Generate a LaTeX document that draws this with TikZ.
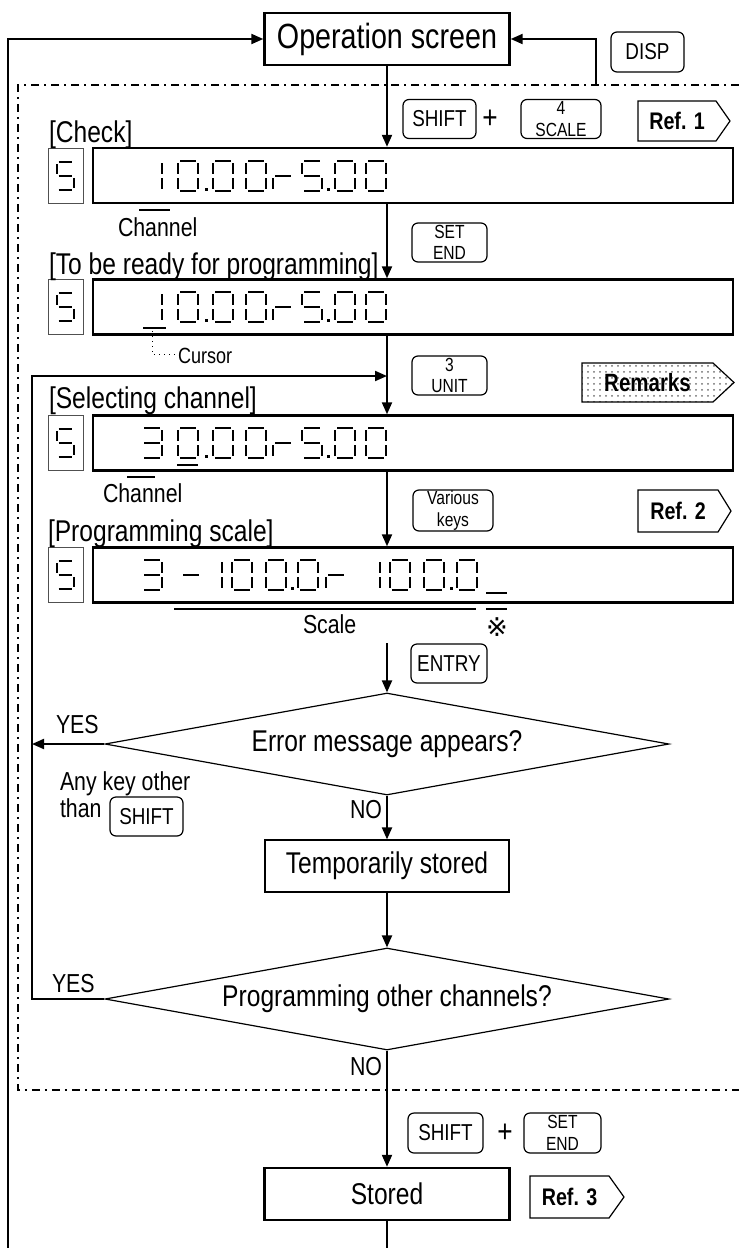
\documentclass[tikz,border=0pt]{standalone}
\usepackage{fontspec}
\setmainfont{Liberation Sans}[FakeStretch=0.82]
\newfontfamily\refmarkfont{DejaVu Sans}
\usetikzlibrary{arrows.meta,positioning,shapes.geometric,patterns,backgrounds}
\definecolor{FrameGray}{RGB}{80,80,80}
\definecolor{DotGray}{RGB}{110,110,110}
\newcommand{\fsz}[1]{\fontsize{#1}{#1}\selectfont}

% seven-segment figures: a=1 b=2 c=3 d=4 e=5 f=6 g=7
\def\dzero{1,2,3,4,5,6}
\def\done{2,3}
\def\dthree{1,2,3,4,7}
\def\dfive{1,6,7,3,4}
\def\dr{5,7}
\def\ddash{7}
\newcommand{\drawseg}[2]{%
  \ifcase#1\or
    \draw[#2] (2,0)--(18,0);\or
    \draw[#2] (20,2)--(20,13);\or
    \draw[#2] (20,17)--(20,28);\or
    \draw[#2] (2,30)--(18,30);\or
    \draw[#2] (0,17)--(0,28);\or
    \draw[#2] (0,2)--(0,13);\or
    \draw[#2] (2,15)--(18,15);\fi}
\newcommand{\lcd}[3]{%
  \begin{scope}[shift={(#1,#2)}]
    \foreach \s in #3 {\drawseg{\s}{segline}}
  \end{scope}}
\newcommand{\lcdpt}[2]{\fill (#1,#2) rectangle ++(3,-3);}
\newcommand{\chglyph}[1]{%
  \begin{scope}[shift={(57,#1)},xscale=0.85,yscale=0.93]
    \foreach \s in \dfive {\drawseg{\s}{sglyph}}
  \end{scope}}
\newcommand{\tagoutline}[3][]{%
  \draw[tagline,#1] (#2.north west) -- (#2.north east) -- ([xshift=#3]#2.east)
    -- (#2.south east) -- (#2.south west) -- cycle;}

\begin{document}
\begin{tikzpicture}[x=0.5pt,y=-0.5pt,line width=1pt,
    >={Triangle[length=6pt,width=5pt]},
    segline/.style={line width=1.4pt},
    sglyph/.style={line width=0.75pt},
    frameline/.style={line width=0.65pt,dash pattern=on 4pt off 2.5pt on 1pt off 2.5pt},
    mainbox/.style={draw,line width=1.2pt,minimum width=122.5pt,minimum height=26pt,inner sep=0pt},
    stepbox/.style={draw,line width=0.6pt,minimum width=122pt,minimum height=26pt,inner sep=0pt,font=\fsz{15}},
    lcdbox/.style={draw,line width=1.2pt,minimum width=320pt,minimum height=27.5pt,inner sep=0pt},
    chbox/.style={draw=FrameGray,line width=0.5pt,minimum width=17.5pt,minimum height=27.5pt,inner sep=0pt},
    decision/.style={diamond,draw,line width=0.6pt,aspect=5.5,minimum width=282pt,minimum height=51pt,inner sep=0pt,font=\fsz{15}},
    keycap/.style={draw,rounded corners=3pt,line width=0.6pt,inner sep=0pt,minimum height=19.5pt,align=center,font=\fsz{11.5}},
    keytwo/.style={keycap,font=\fontsize{9.5}{10.7}\selectfont},
    heading/.style={anchor=base west,inner sep=0pt,font=\fsz{15}},
    note/.style={inner sep=0pt,font=\fsz{13}},
    tagtext/.style={inner sep=0pt,minimum height=19pt,font=\bfseries\fsz{12}},
    tagline/.style={line width=0.6pt,line join=miter}]
  \useasboundingbox (0,0) rectangle (739,1248);

  % frame of the programming part
  \draw[frameline] (739,85) -- (18,85) -- (18,1090) -- (739,1090);

  % boxes
  \node[mainbox,font=\fsz{17.5}] (op) at (387,39) {Operation screen};
  \node[stepbox] (tmp) at (387,866) {Temporarily stored};
  \node[mainbox,font=\fsz{15}] (stored) at (387,1194) {Stored};
  \node[decision] (err) at (387,744) {Error message appears?};
  \node[decision] (oth) at (387,999) {Programming other channels?};

  % displays
  \node[lcdbox] (d1) at (413,175.5) {};
  \node[lcdbox] (d2) at (413,307) {};
  \node[lcdbox] (d3) at (413,443) {};
  \node[lcdbox] (d4) at (413,575) {};
  \node[chbox] (s1) at (65.5,175.5) {};
  \node[chbox] (s2) at (65.5,307) {};
  \node[chbox] (s3) at (65.5,443) {};
  \node[chbox] (s4) at (65.5,575) {};
  \chglyph{162} \chglyph{293} \chglyph{429} \chglyph{561}

  % display figures
  \lcd{142}{161}{\done} \lcd{142}{292}{\done} \lcd{142}{428}{\dthree}
  \foreach \ty in {161,292,428}{
    \lcd{178}{\ty}{\dzero} \lcdpt{205}{\ty+30}
    \lcd{213}{\ty}{\dzero}
    \lcd{246}{\ty}{\dzero}
    \lcd{273}{\ty}{\dr}
    \lcd{302}{\ty}{\dfive} \lcdpt{327}{\ty+30}
    \lcd{335}{\ty}{\dzero}
    \lcd{366}{\ty}{\dzero}
  }
  \lcd{142}{560}{\dthree}
  \lcd{181}{560}{\ddash}
  \lcd{202}{560}{\done}
  \lcd{232}{560}{\dzero}
  \lcd{266}{560}{\dzero} \lcdpt{291}{590}
  \lcd{298}{560}{\dzero}
  \lcd{326}{560}{\dr}
  \lcd{360}{560}{\done}
  \lcd{390}{560}{\dzero}
  \lcd{424}{560}{\dzero} \lcdpt{450}{590}
  \lcd{457}{560}{\dzero}
  \draw[segline] (143,328) -- (166,328);
  \draw[segline] (177,465) -- (198,465);
  \draw[segline] (486,593) -- (507,593);

  % headings and notes
  \node[heading] (lcheck) at (48,142) {[Check]};
  \node[heading] (lready) at (48,274) {[To be ready for programming]};
  \node[heading] (lselect) at (48,408) {[Selecting channel]};
  \node[heading] (lscale) at (47,541) {[Programming scale]};
  \draw[line width=1.2pt] (139,210) -- (170,210);
  \node[note,anchor=base west] (chan1) at (117,236) {Channel};
  \draw[line width=1.2pt] (127,477) -- (155,477);
  \node[note,anchor=base west] (chan2) at (102,502) {Channel};
  \draw[dotted,line width=0.5pt] (152,331) |- (175,354);
  \node[note,anchor=base west,font=\fsz{11}] (cur) at (177,363) {Cursor};
  \draw[line width=1.3pt] (174,609) -- (476,609);
  \draw[line width=1.3pt] (486,609) -- (507,609);
  \node[note,anchor=base west] (scl) at (302,633) {Scale};
  \node[inner sep=0pt,font=\refmarkfont\fsz{13}] (mark) at (497,627) {※};

  % keys
  \node[keycap,minimum width=36.5pt,minimum height=20pt] (disp) at (647.5,52) {DISP};
  \node[keycap,minimum width=36.5pt] (shifta) at (439.5,119) {SHIFT};
  \node[font=\fsz{16}] (plusa) at (490,119) {+};
  \node[keytwo,minimum width=40pt] (scalekey) at (561,119) {4\\SCALE};
  \node[keytwo,minimum width=37.5pt] (seta) at (449.5,242.5) {SET\\END};
  \node[keytwo,minimum width=37.5pt] (unitkey) at (449.5,375.5) {3\\UNIT};
  \node[keytwo,minimum width=40pt,minimum height=20.5pt] (variouskey) at (453,510.5) {Various\\keys};
  \node[keycap,minimum width=38pt] (entrykey) at (449,663.5) {ENTRY};
  \node[keycap,minimum width=36.5pt] (shiftb) at (146.5,816.5) {SHIFT};
  \node[keycap,minimum width=37.5pt,minimum height=20pt] (shiftc) at (445.5,1133) {SHIFT};
  \node[font=\fsz{16}] (plusb) at (505,1133) {+};
  \node[keytwo,minimum width=38.5pt,minimum height=20pt] (setb) at (562.5,1133) {SET\\END};

  % reference tags
  \node[tagtext,minimum width=38pt] (ref1) at (677,121) {Ref. 1};
  \tagoutline{ref1}{7pt}
  \node[tagtext,minimum width=39pt,minimum height=20pt] (ref2) at (678,511) {Ref. 2};
  \tagoutline{ref2}{6.5pt}
  \node[tagtext,minimum width=38.5pt,minimum height=20pt] (ref3) at (569.5,1197) {Ref. 3};
  \tagoutline{ref3}{7.5pt}
  \node[tagtext,minimum width=64.5pt,minimum height=18.5pt,font=\bfseries\fsz{12.5}] (rem) at (647.5,382.5) {Remarks};
  \begin{scope}[on background layer]
    \tagoutline[pattern=dots,pattern color=DotGray]{rem}{10.5pt}
  \end{scope}

  % branch labels
  \node[note,anchor=base west] (yesa) at (55,733) {YES};
  \node[note,anchor=base west] (anykey) at (59,790) {Any key other};
  \node[note,anchor=base west] (than) at (59,817) {than};
  \node[note,anchor=base east] (noa) at (383,818) {NO};
  \node[note,anchor=base west] (yesb) at (51,992) {YES};
  \node[note,anchor=base east] (nob) at (383,1075) {NO};

  % flow
  \coordinate (dispfoot) at (596,85);
  \coordinate (entrytop) at (387,643);
  \coordinate (loop) at (32,376);
  \coordinate (bot) at (387,1248);
  \coordinate (lbot) at (8,1248);
  \draw[->] (op.south) -- (op |- d1.north);
  \draw[->] (op |- d1.south) -- (op |- d2.north);
  \draw[->] (op |- d2.south) -- (op |- d3.north);
  \draw[->] (op |- d3.south) -- (op |- d4.north);
  \draw[->] (entrytop) -- (err.north);
  \draw[->] (err.south) -- (tmp.north);
  \draw[->] (tmp.south) -- (oth.north);
  \draw[->] (oth.south) -- (stored.north);
  \draw (stored.south) -- (bot);
  \draw[->] (err.west) -- (err.west -| loop);
  \draw[->] (oth.west) -| (loop) -- (loop -| op);
  \draw[->] (lbot) |- (op.west);
  \draw[->] (dispfoot) |- (op.east);
\end{tikzpicture}
\end{document}
